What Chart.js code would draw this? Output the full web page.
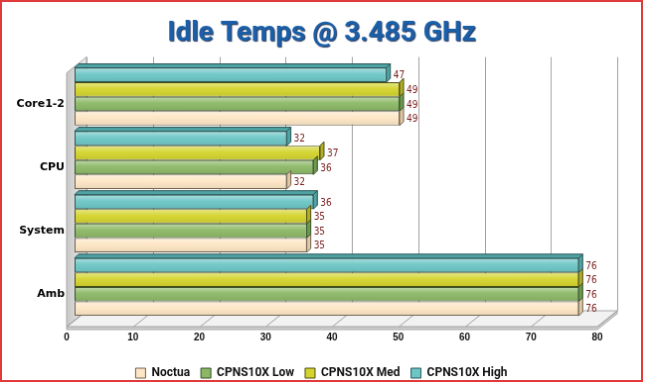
<!DOCTYPE html>
<html>
<head>
<meta charset="utf-8">
<script src="https://cdn.jsdelivr.net/npm/chart.js@4/dist/chart.umd.min.js"></script>
<style>
  html, body { margin: 0; padding: 0; background: #fff; }
  #chart { display: block; border: 2px solid #e03a3a; }
</style>
</head>
<body>
<canvas id="chart" width="643" height="382"></canvas>
<script>
const categories = ["Core1-2", "CPU", "System", "Amb"];
const noctua   = [49, 32, 35, 76];
const cpnsLow  = [49, 36, 35, 76];
const cpnsMed  = [49, 37, 35, 76];
const cpnsHigh = [47, 32, 36, 76];
const xTicks   = [0, 10, 20, 30, 40, 50, 60, 70, 80];

// fill, border, end face
const colors = {
  noctua: ["#fde6c4", "#6e6250", "#e2c9a4"],
  low:    ["#8cb866", "#34512a", "#6f9a4c"],
  med:    ["#d4d42c", "#4e4e12", "#b0b028"],
  high:   ["#6cc6c6", "#2c5454", "#4ea4a4"]
};

const DEPTH = 4;
const FRONT = { x: -8, y: 8 };
const BACK = { x: 12, y: -8 };

/* ======================================
   TITLE SHADOW
====================================== */
const titleShadow = {
  id: "titleShadow",
  afterInit(chart) {
    const block = chart.titleBlock;
    if (!block) return;
    const orig = block.draw.bind(block);
    block.draw = function (area) {
      const ctx = chart.ctx;
      ctx.save();
      ctx.shadowColor = "rgba(0,20,60,0.85)";
      ctx.shadowOffsetX = 1;
      ctx.shadowOffsetY = 1.5;
      ctx.shadowBlur = 1;
      orig(area);
      ctx.restore();
    };
  }
};

/* ======================================
   3D WALLS / FLOOR
====================================== */
const walls = {
  id: "walls",
  beforeDatasetsDraw(chart) {
    const { ctx, chartArea: a, scales: { x } } = chart;
    ctx.save();

    // left wall
    const wg = ctx.createLinearGradient(a.left + FRONT.x, 0, a.left + BACK.x, 0);
    wg.addColorStop(0, "#c8c8c8");
    wg.addColorStop(1, "#ececec");
    ctx.fillStyle = wg;
    ctx.strokeStyle = "#a8a8a8";
    ctx.lineWidth = 1;
    ctx.beginPath();
    ctx.moveTo(a.left + FRONT.x, a.top + FRONT.y);
    ctx.lineTo(a.left + BACK.x, a.top + BACK.y);
    ctx.lineTo(a.left + BACK.x, a.bottom + BACK.y);
    ctx.lineTo(a.left + FRONT.x, a.bottom + FRONT.y);
    ctx.closePath();
    ctx.fill();
    ctx.stroke();

    // floor slab
    const fl = a.left + FRONT.x, fr = a.right + FRONT.x, fy = a.bottom + FRONT.y;
    const bl = a.left + BACK.x, br = a.right + BACK.x, by = a.bottom + BACK.y;
    ctx.fillStyle = "#d0d0d0";
    ctx.beginPath();
    ctx.moveTo(fl, fy);
    ctx.lineTo(fr, fy);
    ctx.lineTo(br, by);
    ctx.lineTo(br, by + 3);
    ctx.lineTo(fr, fy + 3);
    ctx.lineTo(fl, fy + 3);
    ctx.closePath();
    ctx.fill();
    ctx.stroke();
    ctx.fillStyle = "#f2f2f2";
    ctx.beginPath();
    ctx.moveTo(fl, fy);
    ctx.lineTo(fr, fy);
    ctx.lineTo(br, by);
    ctx.lineTo(bl, by);
    ctx.closePath();
    ctx.fill();
    ctx.stroke();

    // back grid lines and floor lines
    ctx.strokeStyle = "#a0a0a0";
    xTicks.forEach(v => {
      const px = Math.round(x.getPixelForValue(v)) + 0.5;
      ctx.beginPath();
      ctx.moveTo(px + BACK.x, a.top + BACK.y);
      ctx.lineTo(px + BACK.x, a.bottom + BACK.y);
      ctx.stroke();
      ctx.beginPath();
      ctx.moveTo(px + FRONT.x, fy);
      ctx.lineTo(px + BACK.x, by);
      ctx.stroke();
    });
    ctx.restore();
  }
};

/* ======================================
   BAR FACES + VALUE LABELS
====================================== */
const bars3d = {
  id: "bars3d",
  afterDatasetsDraw(chart) {
    const { ctx } = chart;
    ctx.save();
    const n = chart.data.datasets.length;
    for (let di = n - 1; di >= 0; di--) {
      const ds = chart.data.datasets[di];
      const meta = chart.getDatasetMeta(di);
      meta.data.forEach((bar, i) => {
        const top = bar.y - bar.height / 2;
        const bottom = bar.y + bar.height / 2;
        const left = bar.base, right = bar.x;

        // shine
        const g = ctx.createLinearGradient(0, top, 0, bottom);
        g.addColorStop(0, "rgba(255,255,255,0.45)");
        g.addColorStop(0.45, "rgba(255,255,255,0.05)");
        g.addColorStop(1, "rgba(0,0,0,0.08)");
        ctx.fillStyle = g;
        ctx.fillRect(left + 1, top + 1, right - left - 2, bottom - top - 2);

        ctx.strokeStyle = ds.borderColor;
        ctx.lineWidth = 1;

        // top face (only visible on topmost bar)
        if (di === 0) {
          ctx.fillStyle = ds.faceColor;
          ctx.beginPath();
          ctx.moveTo(left, top);
          ctx.lineTo(left + DEPTH, top - DEPTH);
          ctx.lineTo(right + DEPTH, top - DEPTH);
          ctx.lineTo(right, top);
          ctx.closePath();
          ctx.fill();
          ctx.stroke();
        }

        // end face
        ctx.fillStyle = ds.faceColor;
        ctx.beginPath();
        ctx.moveTo(right, top);
        ctx.lineTo(right + DEPTH, top - DEPTH);
        ctx.lineTo(right + DEPTH, bottom - DEPTH);
        ctx.lineTo(right, bottom);
        ctx.closePath();
        ctx.fill();
        ctx.stroke();

        // value
        ctx.fillStyle = "#7a1c1c";
        ctx.font = "10px 'DejaVu Sans Condensed', 'DejaVu Sans'";
        ctx.textAlign = "left";
        ctx.textBaseline = "middle";
        ctx.fillText(ds.data[i], right + DEPTH + 3, bar.y + 1);
      });
    }
    ctx.restore();
  }
};

function series(label, data, c) {
  return {
    label,
    data,
    backgroundColor: c[0],
    borderColor: c[1],
    faceColor: c[2],
    borderWidth: 1,
    borderSkipped: false,
    categoryPercentage: 0.91,
    barPercentage: 1.0
  };
}

new Chart(document.getElementById("chart"), {
  type: "bar",
  data: {
    labels: categories,
    datasets: [
      series("CPNS10X High", cpnsHigh, colors.high),
      series("CPNS10X Med", cpnsMed, colors.med),
      series("CPNS10X Low", cpnsLow, colors.low),
      series("Noctua", noctua, colors.noctua)
    ]
  },
  options: {
    indexAxis: "y",
    responsive: false,
    animation: false,
    layout: { padding: { left: 0, right: 0, top: 0, bottom: -9 } },
    scales: {
      x: {
        min: 0,
        max: 80,
        ticks: {
          stepSize: 10,
          labelOffset: -8,
          padding: 13,
          color: "#111",
          font: { family: "'Liberation Sans'", size: 10, weight: "bold" }
        },
        grid: { display: false, drawTicks: false },
        border: { display: false },
        afterFit(s) { s.height = 38; }
      },
      y: {
        ticks: {
          labelOffset: 7,
          padding: 10,
          color: "#000",
          font: { family: "'DejaVu Sans'", size: 11, weight: "bold" }
        },
        grid: { display: false, drawTicks: false },
        border: { display: false },
        afterFit(s) { s.width = 73; }
      },
      // empty right gutter so the title and legend stay centred on the canvas
      gutter: {
        type: "category",
        position: "right",
        ticks: { display: false },
        grid: { display: false, drawTicks: false },
        border: { display: false },
        afterFit(s) { s.width = 36; }
      }
    },
    plugins: {
      title: {
        display: true,
        text: "Idle Temps @ 3.485 GHz",
        color: "#1a5fa8",
        font: { family: "Roboto", size: 28, weight: "bold" },
        padding: { top: 15, bottom: 15 }
      },
      legend: {
        position: "bottom",
        reverse: true,
        labels: {
          boxWidth: 10,
          boxHeight: 10,
          padding: 11,
          color: "#111",
          font: { family: "Roboto", size: 12, weight: "bold" }
        }
      },
      tooltip: { enabled: false }
    }
  },
  plugins: [titleShadow, walls, bars3d]
});
</script>
</body>
</html>
